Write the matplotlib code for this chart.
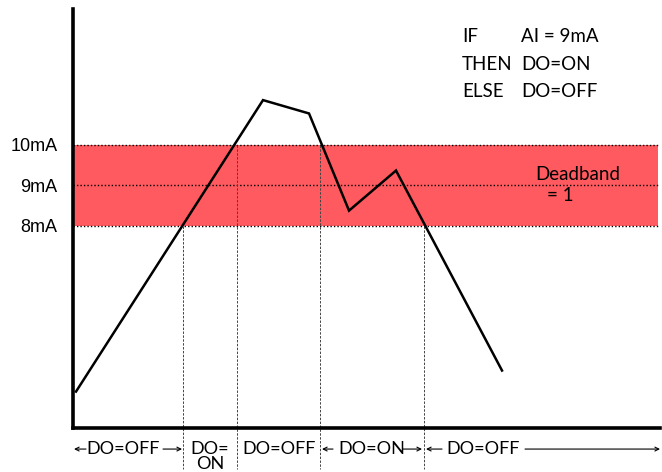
import matplotlib
matplotlib.use("Agg")
import matplotlib.pyplot as plt

# analog input over time (x in arbitrary time units, y in mA)
times = [3, 190, 236, 276, 323, 429]
current = [3.9, 11.1, 10.77, 8.37, 9.36, 4.42]

# points where the digital output switches
switch_times = [110, 164, 247, 351]
switch_levels = [8, 10, 10, 8]

band_low, band_high, setpoint = 8, 10, 9
ytick_vals = [8, 9, 10]
ytick_labels = ["8mA", "9mA", "10mA"]

seg_edges = [0, 110, 164, 247, 351, 587]
seg_labels = ["DO=OFF", "DO=\nON", "DO=OFF", "DO=ON", "DO=OFF"]

rule_lines = [("IF", "AI = 9mA"), ("THEN", "DO=ON"), ("ELSE", "DO=OFF")]

plt.rcParams['font.family'] = ['Lato', 'DejaVu Sans']

fig = plt.figure(figsize=(6.62, 4.72), dpi=100)
ax = fig.add_axes([0.1103, 0.0932, 0.8867, 0.8877])
ax.set_xlim(0, 587)
ax.set_ylim(3, 13.35)

ax.axhspan(band_low, band_high, xmin=0, xmax=0.997, color='#ff5a5f', lw=0, zorder=1)
for lev in (band_low, setpoint, band_high):
    ax.plot([0, 585], [lev, lev], color='black', lw=1.0, ls=(0, (1, 1.5)), zorder=2)

for t, lev in zip(switch_times, switch_levels):
    ax.plot([t, t], [lev, 1.98], color='#444444', lw=0.7, ls=(0, (2.5, 1.5)),
            clip_on=False, zorder=2)

ax.plot(times, current, color='black', lw=1.8, zorder=3, solid_joinstyle='miter')

# axes look
for s in ('top', 'right'):
    ax.spines[s].set_visible(False)
ax.spines['left'].set_linewidth(2.6)
ax.spines['bottom'].set_linewidth(2.6)
ax.set_xticks([])
ax.set_yticks(ytick_vals)
ax.set_yticklabels(ytick_labels, family='Liberation Sans', fontsize=13)
ax.tick_params(axis='y', length=0, pad=11)

# rule text
for i, (a, b) in enumerate(rule_lines):
    y = 12.67 - i * 0.68
    ax.text(389, y, a, fontsize=13.5, va='center', ha='left')
    ax.text(448, y, b, fontsize=13.5, va='center', ha='left')

ax.text(505, 9.26, "Deadband", fontsize=13.5, ha='center', va='center')
ax.text(487, 8.74, "= 1", fontsize=13.5, ha='center', va='center')

# bottom state labels with arrows
ylab = 2.48
arr = dict(arrowstyle='->', color='black', lw=0.8, shrinkA=0, shrinkB=0,
           mutation_scale=7)


def arrow(x0, x1):
    ax.annotate("", xy=(x1, ylab), xytext=(x0, ylab), arrowprops=arr,
                annotation_clip=False)


lab_x = [50, 137, 206, 299, 410]
for x, lab in zip(lab_x, seg_labels):
    if "\n" in lab:
        ax.text(x, ylab, "DO=", fontsize=13, ha='center', va='center', clip_on=False)
        ax.text(x, ylab - 0.37, "ON", fontsize=13, ha='center', va='center', clip_on=False)
    else:
        ax.text(x, ylab, lab, fontsize=13, ha='center', va='center', clip_on=False)

arrow(13, 1)
arrow(90, 109)
arrow(260, 249)
arrow(330, 349)
arrow(369, 353)
arrow(452, 587)

fig.savefig("out.png", dpi=100)
